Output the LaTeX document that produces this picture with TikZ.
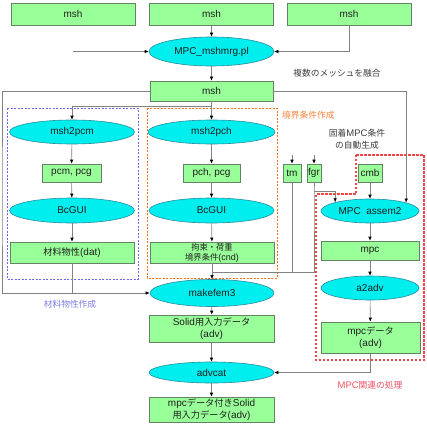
\documentclass[tikz,border=0pt]{standalone}
\usepackage{fontspec}
\setmainfont{Liberation Sans}
\newfontfamily\jp[Scale=0.92]{Noto Sans CJK JP}
\usetikzlibrary{arrows.meta,shapes.geometric}
\definecolor{boxfill}{RGB}{153,255,153}
\definecolor{boxline}{RGB}{100,130,100}
\definecolor{ellfill}{RGB}{0,238,238}
\definecolor{ellline}{RGB}{40,140,160}
\definecolor{conncol}{RGB}{130,130,130}
\definecolor{bluedash}{RGB}{110,100,255}
\definecolor{orangedash}{RGB}{255,110,20}
\definecolor{reddash}{RGB}{240,70,70}
\definecolor{txt}{RGB}{30,30,30}
\definecolor{bluelab}{RGB}{130,120,230}
\definecolor{orangelab}{RGB}{255,130,60}
\definecolor{redlab}{RGB}{240,80,100}
\definecolor{graylab}{RGB}{60,60,60}
\begin{document}
\begin{tikzpicture}[x=1pt,y=-1pt,
 box/.style={draw=boxline, fill=boxfill, line width=0.6pt, inner sep=0pt, align=center, font=\fontsize{10}{12}\selectfont, text=txt},
 ell/.style={ellipse, draw=ellline, fill=ellfill, line width=0.6pt, inner sep=0pt, font=\fontsize{10}{12}\selectfont, text=txt},
 conn/.style={draw=conncol, line width=0.6pt, -{Latex[length=4pt,width=3.5pt,color=black]}},
 plain/.style={draw=conncol, line width=0.6pt},
 lab/.style={font=\fontsize{9.5}{11.5}\selectfont, align=center, inner sep=0pt},
 region/.style={line width=0.9pt, dash pattern=on 2pt off 1.5pt},
]
\useasboundingbox (0,0) rectangle (427,425);
\fill[white] (0,0) rectangle (427,425);

% dashed regions
\draw[region, draw=bluedash] (7,108) rectangle (138,279);
\draw[region, draw=orangedash] (147,108) rectangle (277,278);
\draw[region, draw=reddash, line width=1.2pt, dash pattern=on 2.5pt off 1.5pt]
  (356,155) -- (424,155) -- (424,360) -- (316,360) -- (316,194) -- (356,194) -- cycle;

% top row
\node[box, minimum width=124pt, minimum height=22pt] (m1) at (73,14) {msh};
\node[box, minimum width=124pt, minimum height=22pt] (m2) at (211.5,14) {msh};
\node[box, minimum width=124pt, minimum height=22pt] (m3) at (349,14) {msh};
\node[ell, minimum width=125pt, minimum height=29pt] (mrg) at (211.5,51.5) {MPC\_mshmrg.pl};
\node[box, minimum width=123pt, minimum height=20pt] (msh) at (211.5,91) {msh};

% left column
\node[ell, minimum width=125pt, minimum height=24pt] (p2m) at (72,132) {msh2pcm};
\node[box, minimum width=59pt, minimum height=18pt] (pcm) at (71.5,173) {pcm, pcg};
\node[ell, minimum width=125pt, minimum height=25pt] (bc1) at (72,210.5) {BcGUI};
\node[box, minimum width=124pt, minimum height=21pt] (dat) at (72,252.5) {{\jp 材料物性}(dat)};

% middle column
\node[ell, minimum width=127pt, minimum height=24pt] (p2h) at (211.5,132) {msh2pch};
\node[box, minimum width=57pt, minimum height=18pt] (pch) at (211.5,173) {pch, pcg};
\node[ell, minimum width=125pt, minimum height=25pt] (bc2) at (211.5,210.5) {BcGUI};
\node[box, minimum width=124pt, minimum height=21pt, font=\fontsize{9}{10}\selectfont] (cnd) at (212,252.5) {{\jp 拘束・荷重}\\{\jp 境界条件}(cnd)};
\node[ell, minimum width=124pt, minimum height=27pt] (mk) at (212,293) {makefem3};
\node[box, minimum width=125pt, minimum height=27pt] (sol) at (211.5,328.5) {Solid{\jp 用入力データ}\\(adv)};
\node[ell, minimum width=125pt, minimum height=21pt] (adc) at (211.5,372.5) {advcat};
\node[box, minimum width=125pt, minimum height=25pt] (fin) at (211.5,409.5) {mpc{\jp データ付き}Solid\\{\jp 用入力データ}(adv)};

% right column
\node[box, minimum width=18pt, minimum height=18pt] (tm) at (292,173) {tm};
\node[box, minimum width=14pt, minimum height=18pt] (fgr) at (314,173) {fgr};
\node[box, minimum width=24pt, minimum height=18pt] (cmb) at (370,173) {cmb};
\node[ell, minimum width=98pt, minimum height=24pt] (asm) at (370,211) {MPC\ \ assem2};
\node[box, minimum width=98pt, minimum height=19pt] (mpc) at (370,250.5) {mpc};
\node[ell, minimum width=98pt, minimum height=24pt] (a2a) at (370,288) {a2adv};
\node[box, minimum width=99pt, minimum height=31pt] (mpd) at (370.5,337.5) {mpc{\jp データ}\\(adv)};

% labels
\node[lab, text=graylab] (l1) at (337,73) {\jp 複数のメッシュを融合};
\node[lab, text=orangelab, anchor=west] (l2) at (282,115) {\jp 境界条件作成};
\node[lab, text=graylab] (l3) at (357,139) {{\jp 固着}MPC{\jp 条件}\\{\jp の自動生成}};
\node[lab, text=bluelab] (l4) at (70,304) {\jp 材料物性作成};
\node[lab, text=redlab] (l5) at (370,385) {MPC{\jp 関連の処理}};

% coordinates
\coordinate (in0) at (73,51.5);
\coordinate (j1) at (211.5,106);
\coordinate (lx) at (2,200);
\coordinate (tin) at (292,155);
\coordinate (fin0) at (314,155);
\coordinate (jf) at (314,191);
\coordinate (j2) at (212,272);

% connectors
\draw[conn] (m2.south) -- (mrg.north);
\draw[conn] (in0) -- (mrg.west);
\draw[conn] (m3.south) |- (mrg.east);
\draw[conn] (mrg.south) -- (msh.north);
\draw[conn] (msh.south) -- (p2h.north);
\draw[conn] (j1) -| (p2m.north);
\draw[conn] (msh.west) -| (lx) |- (mk.west);
\draw[plain] (dat.south) -- (dat.south |- mk.west);
\draw[conn] (msh.east) -| (asm.13.5);

\draw[conn] (p2m) -- (pcm);
\draw[conn] (pcm) -- (bc1);
\draw[conn] (bc1) -- (dat);

\draw[conn] (p2h) -- (pch);
\draw[conn] (pch) -- (bc2);
\draw[conn] (bc2) -- (cnd);
\draw[conn] (cnd) -- (mk);
\draw[conn] (mk) -- (sol);
\draw[conn] (sol) -- (adc);
\draw[conn] (adc) -- (fin);

\draw[conn] (tin) -- (tm.north);
\draw[conn] (fin0) -- (fgr.north);
\draw[plain] (tm.south) |- (j2);
\draw[plain] (fgr.south) -- (jf) |- (j2);
\draw[conn] (jf) -| (asm.166.5);
\draw[conn] (cmb.south) -- (asm.north);

\draw[conn] (asm) -- (mpc);
\draw[conn] (mpc) -- (a2a);
\draw[conn] (a2a) -- (mpd);
\draw[conn] (mpd.south) |- (adc.east);
\end{tikzpicture}
\end{document}
